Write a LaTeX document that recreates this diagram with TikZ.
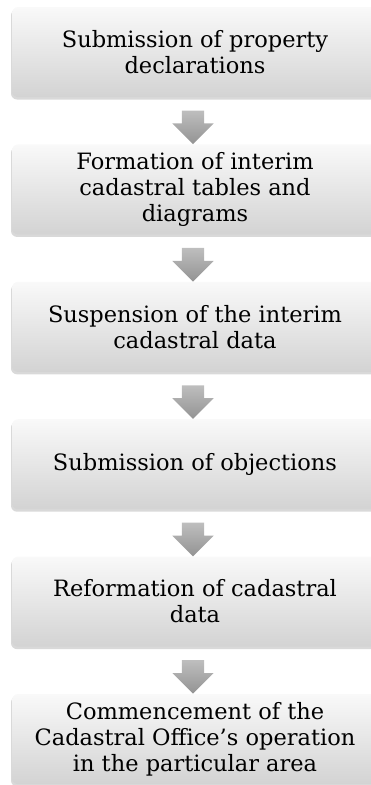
\documentclass[tikz,border=0pt]{standalone}
\usepackage{fontspec}
\setmainfont{DejaVu Serif}
\usetikzlibrary{positioning, shapes.arrows, shadows, calc}
\definecolor{boxtop}{HTML}{F9F9F9}
\definecolor{boxbottom}{HTML}{D3D3D3}
\definecolor{arrowtop}{HTML}{BEBEBE}
\definecolor{arrowbottom}{HTML}{939393}

\tikzset{
  stagebox/.style={rounded corners=6pt, minimum width=366pt, minimum height=90pt,
                   inner sep=0pt, align=center, top color=boxtop, bottom color=boxbottom,
                   font=\fontsize{22.5}{26}\selectfont,
                   drop shadow={shadow xshift=-1pt, shadow yshift=-2.5pt, opacity=0.3}},
  flowarrow/.style={single arrow, shape border rotate=270, inner sep=11pt,
                    minimum width=41pt, minimum height=33pt,
                    single arrow head extend=9.5pt, single arrow head indent=0pt,
                    top color=arrowtop, bottom color=arrowbottom, draw=none}
}

\begin{document}
\begin{tikzpicture}[x=1pt, y=1pt, node distance=47pt]
  \useasboundingbox (0,0) rectangle (371,-785);

  % stages
  \node[stagebox] (decl) at (195,-52) {Submission of property\\declarations};
  \node[stagebox, below=of decl] (interim) {Formation of interim\\cadastral tables and\\diagrams};
  \node[stagebox, below=of interim] (suspend) {Suspension of the interim\\cadastral data};
  \node[stagebox, below=of suspend] (object) {Submission of objections};
  \node[stagebox, below=of object] (reform) {Reformation of cadastral\\data};
  \node[stagebox, below=of reform] (office) {Commencement of the\\Cadastral Office’s operation\\in the particular area};

  % arrows between stages
  \foreach \a/\b in {decl/interim, interim/suspend, suspend/object, object/reform, reform/office}
    \node[flowarrow] at ($(\a.south)!0.5!(\b.north)+(-2,-1)$) {};
\end{tikzpicture}
\end{document}
